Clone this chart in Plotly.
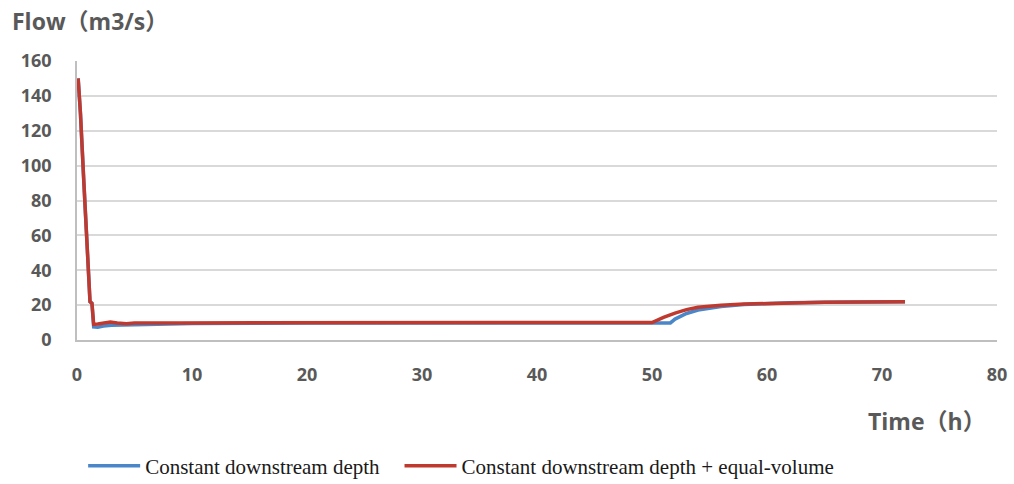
import plotly.graph_objects as go

# Time (h) and flow (m3/s) for the two downstream boundary schemes
time_depth = [0.1, 0.3, 0.6, 0.9, 1.13, 1.3, 1.45, 1.8, 2.3, 3.0, 4.0, 5.0, 7.0, 10.0, 20.0, 30.0, 40.0,
              50.0, 51.0, 51.6, 52.0, 53.0, 54.0, 55.0, 56.0, 58.0, 60.0, 62.0, 65.0, 68.0, 72.0]
flow_depth = [150, 130, 90, 50, 22, 21, 7.5, 7.3, 8.0, 8.4, 8.6, 9.0, 9.2, 9.5, 9.7, 9.8, 9.8,
              9.8, 9.8, 9.8, 12.0, 15.2, 17.2, 18.4, 19.2, 20.3, 21.0, 21.4, 21.7, 21.8, 22.0]

time_volume = [0.1, 0.3, 0.6, 0.9, 1.13, 1.3, 1.45, 1.8, 2.3, 2.9, 3.5, 4.3, 5.0, 6.0, 7.0, 10.0, 20.0, 30.0,
               40.0, 50.0, 51.0, 52.0, 53.0, 54.0, 55.0, 56.0, 58.0, 60.0, 62.0, 65.0, 68.0, 72.0]
flow_volume = [150, 130, 90, 50, 22, 21, 9.0, 9.2, 9.8, 10.3, 9.8, 9.3, 9.8, 9.6, 9.8, 9.8, 10.0, 10.0,
               10.0, 10.0, 13.0, 15.4, 17.4, 18.8, 19.5, 19.9, 20.6, 21.0, 21.4, 21.7, 21.8, 22.0]

x_ticks = [0, 10, 20, 30, 40, 50, 60, 70, 80]
y_ticks = [0, 20, 40, 60, 80, 100, 120, 140, 160]

names = ["Constant downstream depth", "Constant downstream depth + equal-volume"]
colors = ["#4a86c8", "#c0392f"]

fig = go.Figure()
fig.add_trace(go.Scatter(x=time_depth, y=flow_depth, mode="lines", name=names[0],
                         line=dict(color=colors[0], width=3.5), legend="legend"))
fig.add_trace(go.Scatter(x=time_volume, y=flow_volume, mode="lines", name=names[1],
                         line=dict(color=colors[1], width=3.5), legend="legend2"))

tick_font = dict(family="Open Sans, Noto Sans, sans-serif", size=18, color="#595959", weight="bold")
title_font = dict(family="Open Sans, Noto Sans CJK SC, sans-serif", size=23, color="#595959")
legend_font = dict(family="Liberation Serif, Times New Roman, serif", size=21, color="#1a1a1a")

legend_common = dict(orientation="v", y=0.037, xref="container", yref="container",
                     xanchor="left", yanchor="middle", font=legend_font, itemwidth=52,
                     bgcolor="rgba(0,0,0,0)")

fig.update_layout(
    width=1014, height=484,
    margin=dict(l=77, r=17, t=61, b=144, autoexpand=False),
    plot_bgcolor="white", paper_bgcolor="white",
    showlegend=True,
    legend=dict(x=0.082, **legend_common),
    legend2=dict(x=0.394, **legend_common),
    xaxis=dict(range=[0, 80], tickvals=x_ticks, ticktext=[str(v) for v in x_ticks],
               showgrid=False, zeroline=False, showline=True, linecolor="#bfbfbf", linewidth=1.5,
               ticks="", tickfont=tick_font, ticklabelstandoff=18),
    yaxis=dict(range=[0, 160], tickvals=y_ticks, ticktext=[str(v) for v in y_ticks],
               showgrid=True, gridcolor="#d9d9d9", gridwidth=1.5, zeroline=False,
               showline=True, linecolor="#bfbfbf", linewidth=1.5,
               ticks="", tickfont=tick_font, ticklabelstandoff=20),
    annotations=[
        dict(text="<b>Flow（m3/s）</b>", xref="paper", yref="paper", x=-0.073, y=1.145,
             xanchor="left", yanchor="middle", showarrow=False, font=title_font),
        dict(text="<b>Time（h）</b>", xref="paper", yref="paper", x=0.99, y=-0.291,
             xanchor="right", yanchor="middle", showarrow=False, font=title_font),
    ],
)

fig.write_html("out.html")
